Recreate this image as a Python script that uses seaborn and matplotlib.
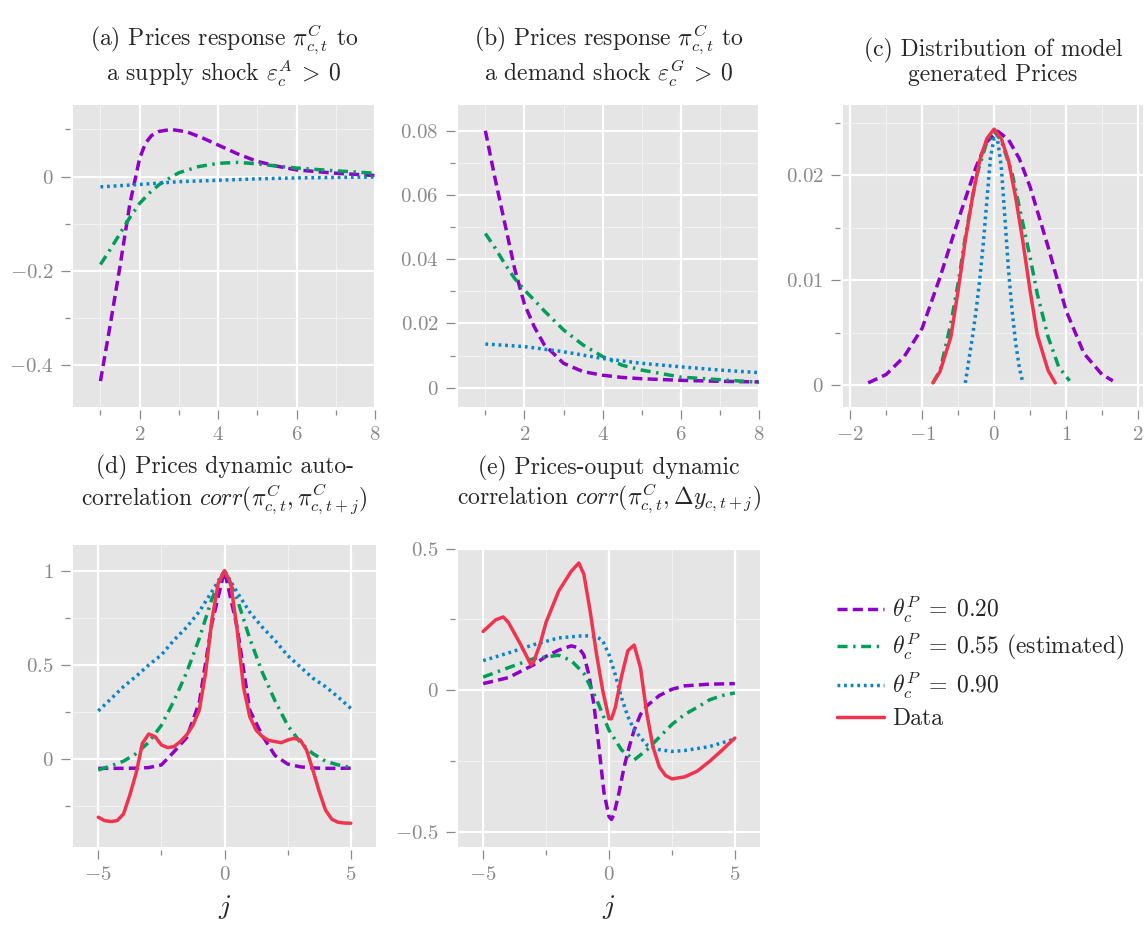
import numpy as np
import pandas as pd
import seaborn as sns
import matplotlib.pyplot as plt
from matplotlib.ticker import MultipleLocator, FuncFormatter

# Colours / styles for the three calibrations and the data
PURPLE = '#8E00C8'
GREEN = '#009E5A'
BLUE = '#0A84C8'
RED = '#F0344F'
DASHED = (0, (2.9, 1.5))
DASHDOT = (0, (2.9, 1.6, 0.7, 1.6))
DOTTED = (0, (0.8, 1.1))

# (a) price response to a supply shock
a_x_low = [1, 1.25, 1.5, 1.75, 1.9, 2, 2.15, 2.3, 2.5, 2.8, 3.2, 3.6, 4, 4.5, 5, 5.5, 6, 7, 8]
a_low = [-0.435, -0.315, -0.19, -0.058, 0.0, 0.039, 0.071, 0.087, 0.096, 0.1, 0.095, 0.082,
         0.067, 0.048, 0.032, 0.022, 0.014, 0.007, 0.002]
a_x_est = [1, 1.25, 1.5, 1.75, 2, 2.25, 2.5, 2.75, 3, 3.5, 4, 4.5, 5, 5.5, 6, 7, 8]
a_est = [-0.187, -0.155, -0.121, -0.087, -0.057, -0.035, -0.017, -0.004, 0.008, 0.021, 0.028,
         0.03, 0.027, 0.022, 0.018, 0.012, 0.007]
a_x_high = [1, 2, 3, 4, 5, 6, 7, 8]
a_high = [-0.022, -0.017, -0.011, -0.008, -0.005, -0.003, -0.002, -0.001]

# (b) price response to a demand shock
b_x = [1, 1.25, 1.5, 1.75, 2, 2.25, 2.5, 3, 3.5, 4, 4.5, 5, 6, 7, 8]
b_low = [0.080, 0.065, 0.051, 0.037, 0.026, 0.019, 0.0135, 0.0076, 0.005, 0.0039, 0.0032,
         0.0028, 0.0023, 0.002, 0.0018]
b_est = [0.048, 0.0435, 0.0385, 0.034, 0.0304, 0.0273, 0.024, 0.018, 0.0133, 0.0097, 0.007,
         0.0055, 0.0033, 0.0025, 0.0017]
b_x_high = [1, 2, 3, 4, 5, 6, 7, 8]
b_high = [0.0136, 0.0128, 0.0112, 0.0091, 0.0076, 0.0065, 0.0055, 0.0047]

# (c) distribution of generated prices
c_x_low = [-1.75, -1.5, -1.25, -1.0, -0.75, -0.5, -0.25, -0.1, 0.05, 0.2, 0.35, 0.5, 0.75,
           1.0, 1.25, 1.5, 1.65]
c_low = [0.0002, 0.001, 0.0027, 0.0054, 0.0103, 0.0157, 0.0208, 0.0232, 0.0242, 0.0234,
         0.0216, 0.0189, 0.0132, 0.0071, 0.003, 0.001, 0.0004]
c_x_est = [-0.85, -0.75, -0.6, -0.5, -0.4, -0.25, -0.1, 0, 0.1, 0.25, 0.4, 0.5, 0.6, 0.75, 0.9, 1.05]
c_est = [0.0002, 0.0014, 0.0059, 0.0097, 0.0141, 0.0198, 0.0232, 0.0242, 0.0233, 0.0202,
         0.0154, 0.0122, 0.0087, 0.0046, 0.0017, 0.0004]
c_x_high = [-0.4, -0.3, -0.25, -0.2, -0.15, -0.1, -0.05, 0, 0.05, 0.1, 0.15, 0.2, 0.25, 0.3, 0.35, 0.4]
c_high = [0.0002, 0.0046, 0.0071, 0.01, 0.0135, 0.0176, 0.0217, 0.0235, 0.0233, 0.0208,
          0.016, 0.011, 0.0071, 0.004, 0.0017, 0.0002]
c_x_data = [-0.85, -0.75, -0.6, -0.5, -0.4, -0.3, -0.2, -0.1, 0, 0.1, 0.2, 0.3, 0.4, 0.5, 0.6, 0.75, 0.85]
c_data = [0.0002, 0.0013, 0.0046, 0.009, 0.0138, 0.0179, 0.0214, 0.0235, 0.0244, 0.0235,
          0.0214, 0.0179, 0.0137, 0.009, 0.0048, 0.0014, 0.0002]

# (d) price autocorrelation
d_x = [-5, -4.5, -4, -3.5, -3, -2.5, -2, -1.5, -1, -0.5, 0, 0.5, 1, 1.5, 2, 2.5, 3, 3.5, 4, 4.5, 5]
d_low = [-0.048, -0.048, -0.048, -0.047, -0.044, -0.03, 0.04, 0.115, 0.30, 0.72, 1.0, 0.70,
         0.26, 0.125, 0.02, -0.025, -0.04, -0.046, -0.048, -0.048, -0.047]
d_est = [-0.057, -0.035, -0.01, 0.03, 0.09, 0.18, 0.31, 0.46, 0.64, 0.85, 1.0, 0.85, 0.64,
         0.46, 0.31, 0.18, 0.09, 0.03, -0.01, -0.03, -0.044]
d_high = [0.256, 0.32, 0.385, 0.44, 0.5, 0.553, 0.632, 0.70, 0.783, 0.889, 1.0, 0.885, 0.78,
          0.70, 0.63, 0.55, 0.49, 0.43, 0.385, 0.33, 0.27]
d_x_data = [-5, -4.75, -4.5, -4.25, -4, -3.75, -3.5, -3.25, -3, -2.75, -2.5, -2.25, -2, -1.75,
            -1.5, -1.25, -1, -0.75, -0.5, -0.25, 0, 0.25, 0.5, 0.75, 1, 1.25, 1.5, 1.75, 2,
            2.25, 2.5, 2.75, 3, 3.25, 3.5, 3.75, 4, 4.25, 4.5, 4.75, 5]
d_data = [-0.307, -0.325, -0.33, -0.325, -0.29, -0.19, -0.074, 0.085, 0.134, 0.12, 0.076,
          0.062, 0.067, 0.094, 0.129, 0.18, 0.26, 0.456, 0.738, 0.933, 1.0, 0.933, 0.686,
          0.385, 0.226, 0.155, 0.12, 0.10, 0.094, 0.088, 0.102, 0.111, 0.102, 0.049, -0.057,
          -0.17, -0.269, -0.318, -0.334, -0.338, -0.339]

# (e) price-output dynamic correlation
e_x_low = [-5, -4, -3, -2.5, -2, -1.5, -1.2, -1, -0.8, -0.6, -0.4, -0.2, 0, 0.1, 0.2, 0.4,
           0.6, 0.8, 1, 1.25, 1.5, 2, 2.5, 3, 4, 5]
e_low = [0.024, 0.045, 0.09, 0.12, 0.142, 0.157, 0.15, 0.125, 0.055, -0.05, -0.2, -0.36,
         -0.445, -0.455, -0.435, -0.36, -0.27, -0.2, -0.14, -0.085, -0.055, -0.018, 0.004,
         0.016, 0.022, 0.024]
e_x_est = [-5, -4, -3, -2, -1.5, -1, -0.5, 0, 0.5, 1, 1.5, 2, 2.5, 3, 3.5, 4, 4.5, 5]
e_est = [0.047, 0.08, 0.112, 0.124, 0.105, 0.06, -0.03, -0.14, -0.21, -0.245, -0.21, -0.165,
         -0.12, -0.085, -0.06, -0.033, -0.018, -0.009]
e_x_high = [-5, -4, -3, -2, -1, -0.5, -0.25, 0, 0.25, 0.5, 0.75, 1, 1.5, 2, 2.5, 3, 4, 5]
e_high = [0.105, 0.132, 0.161, 0.185, 0.193, 0.19, 0.175, 0.126, 0.055, -0.027, -0.092,
          -0.139, -0.192, -0.209, -0.215, -0.212, -0.198, -0.171]
e_x_data = [-5, -4.5, -4.2, -4, -3.5, -3.1, -3, -2.75, -2.5, -2, -1.5, -1.2, -1, -0.75, -0.5,
            -0.25, 0, 0.1, 0.25, 0.5, 0.75, 1, 1.25, 1.5, 1.75, 2, 2.25, 2.5, 3, 3.5, 4, 4.5, 5]
e_data = [0.208, 0.249, 0.259, 0.24, 0.16, 0.09, 0.1, 0.16, 0.24, 0.35, 0.42, 0.449, 0.41,
          0.28, 0.13, 0.0, -0.1, -0.1, -0.06, 0.05, 0.14, 0.16, 0.08, -0.08, -0.2, -0.27,
          -0.3, -0.312, -0.305, -0.285, -0.25, -0.21, -0.168]

legend_labels = [r'$\theta^P_c\;=\;0.20$', r'$\theta^P_c\;=\;0.55$ (estimated)',
                 r'$\theta^P_c\;=\;0.90$', 'Data']

titles = [r'(a) Prices response $\pi^C_{c,t}$ to' + '\n' + r'a supply shock $\varepsilon^A_c\:>\:0$',
          r'(b) Prices response $\pi^C_{c,t}$ to' + '\n' + r'a demand shock $\varepsilon^G_c\:>\:0$',
          '(c) Distribution of model\ngenerated Prices',
          '(d) Prices dynamic auto-\n' + r'correlation $corr(\pi^C_{c,t},\pi^C_{c,t+j})$',
          '(e) Prices-ouput dynamic\n' + r'correlation $corr(\pi^C_{c,t},\Delta y_{c,t+j})$']


def tick_fmt(v, pos):
    """ Tick labels in math font """
    if abs(v) < 1e-12:
        v = 0
    return f'${v:g}$'


def draw_panel(ax, series, title, pad, xlim, ylim, xmaj, xmin, ymaj, ymin):
    """ Draw a list of (x, y, colour, style, label) curves on ax and style it """
    for x, y, col, ls, lab in series:
        sns.lineplot(x=x, y=y, ax=ax, color=col, linestyle=ls, linewidth=2.5, label=lab)
    ax.set_xlim(*xlim)
    ax.set_ylim(*ylim)
    ax.xaxis.set_major_locator(MultipleLocator(xmaj))
    ax.xaxis.set_minor_locator(MultipleLocator(xmin))
    ax.yaxis.set_major_locator(MultipleLocator(ymaj))
    ax.yaxis.set_minor_locator(MultipleLocator(ymin))
    ax.xaxis.set_major_formatter(FuncFormatter(tick_fmt))
    ax.yaxis.set_major_formatter(FuncFormatter(tick_fmt))
    ax.grid(which='major', color='white', linewidth=1.6)
    ax.grid(which='minor', color='#F3F3F3', linewidth=0.7)
    ax.set_title(title, fontsize=17, pad=pad, linespacing=1.05)
    # ticks sit a little away from the panel, spines hidden
    for side in ('bottom', 'left'):
        ax.spines[side].set_position(('outward', 2.5))
    for s in ax.spines.values():
        s.set_visible(False)
    if ax.get_legend() is not None:
        ax.get_legend().remove()


sns.set_theme(style='darkgrid', rc={
    'axes.facecolor': '#E5E5E5',
    'xtick.bottom': True, 'ytick.left': True,
    'xtick.major.size': 6.5, 'ytick.major.size': 6.5,
    'xtick.minor.size': 3.8, 'ytick.minor.size': 3.8,
    'xtick.major.width': 0.9, 'ytick.major.width': 0.9,
    'xtick.minor.width': 0.9, 'ytick.minor.width': 0.9,
    'xtick.color': '#8A8A8A', 'ytick.color': '#8A8A8A',
    'xtick.labelcolor': '#8A8A8A', 'ytick.labelcolor': '#8A8A8A',
    'xtick.labelsize': 15, 'ytick.labelsize': 15,
    'xtick.major.pad': 5, 'ytick.major.pad': 5,
})
plt.rcParams['font.family'] = 'serif'
plt.rcParams['font.serif'] = ['cmr10']
plt.rcParams['mathtext.fontset'] = 'cm'
plt.rcParams['axes.formatter.use_mathtext'] = True
plt.rcParams['axes.unicode_minus'] = False

fig = plt.figure(figsize=(11.46, 9.27), dpi=100)
W, H = 1146, 927


def box(l, t, r, b):
    return [l / W, 1 - b / H, (r - l) / W, (b - t) / H]


ax_a = fig.add_axes(box(73, 105, 375, 407))
ax_b = fig.add_axes(box(458, 105, 759, 407))
ax_c = fig.add_axes(box(843, 105, 1143, 407))
ax_d = fig.add_axes(box(73, 545, 376, 847))
ax_e = fig.add_axes(box(458, 548, 760, 847))

draw_panel(ax_a, [(a_x_low, a_low, PURPLE, DASHED, legend_labels[0]),
                  (a_x_est, a_est, GREEN, DASHDOT, legend_labels[1]),
                  (a_x_high, a_high, BLUE, DOTTED, legend_labels[2])],
           titles[0], 17, (0.3, 8), (-0.49, 0.152), 2, 1, 0.2, 0.1)
draw_panel(ax_b, [(b_x, b_low, PURPLE, DASHED, legend_labels[0]),
                  (b_x, b_est, GREEN, DASHDOT, legend_labels[1]),
                  (b_x_high, b_high, BLUE, DOTTED, legend_labels[2])],
           titles[1], 17, (0.3, 8), (-0.006, 0.088), 2, 1, 0.02, 0.01)
draw_panel(ax_c, [(c_x_low, c_low, PURPLE, DASHED, legend_labels[0]),
                  (c_x_est, c_est, GREEN, DASHDOT, legend_labels[1]),
                  (c_x_high, c_high, BLUE, DOTTED, legend_labels[2]),
                  (c_x_data, c_data, RED, '-', legend_labels[3])],
           titles[2], 17, (-2.1, 2.07), (-0.0021, 0.0267), 1, 0.5, 0.01, 0.005)
draw_panel(ax_d, [(d_x, d_low, PURPLE, DASHED, legend_labels[0]),
                  (d_x, d_est, GREEN, DASHDOT, legend_labels[1]),
                  (d_x, d_high, BLUE, DOTTED, legend_labels[2]),
                  (d_x_data, d_data, RED, '-', legend_labels[3])],
           titles[3], 29, (-6, 6), (-0.465, 1.136), 5, 2.5, 0.5, 0.25)
draw_panel(ax_e, [(e_x_low, e_low, PURPLE, DASHED, legend_labels[0]),
                  (e_x_est, e_est, GREEN, DASHDOT, legend_labels[1]),
                  (e_x_high, e_high, BLUE, DOTTED, legend_labels[2]),
                  (e_x_data, e_data, RED, '-', legend_labels[3])],
           titles[4], 31, (-6, 6), (-0.552, 0.502), 5, 2.5, 0.5, 0.25)

for ax in (ax_d, ax_e):
    ax.set_xlabel('$j$', fontsize=20, labelpad=6)

# Shared legend in the empty bottom-right slot
handles, labels = ax_d.get_legend_handles_labels()
fig.legend(handles, labels, loc='upper left', bbox_to_anchor=(837 / W, 1 - 594 / H),
           frameon=False, fontsize=17, handlelength=2.0, handletextpad=0.35,
           labelspacing=0.3, borderpad=0, borderaxespad=0)

fig.savefig('out.png', dpi=100)
